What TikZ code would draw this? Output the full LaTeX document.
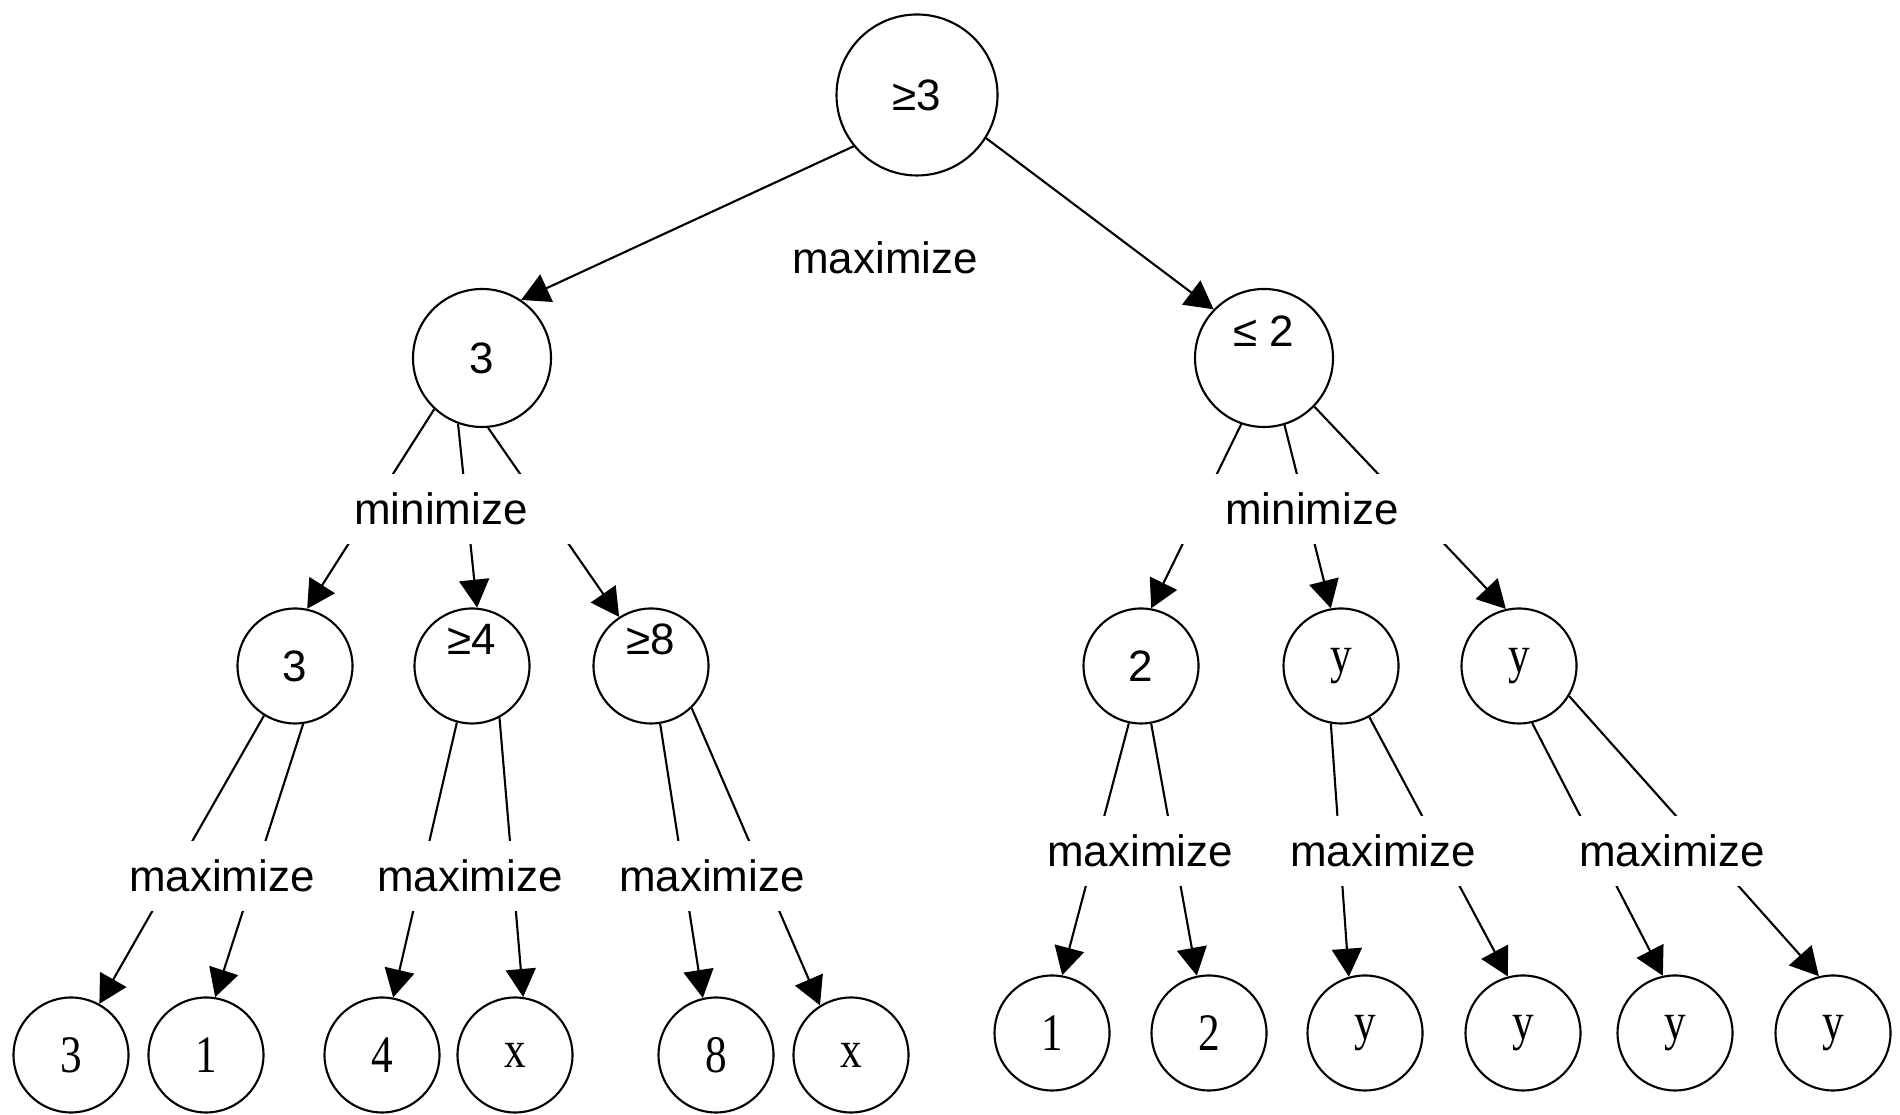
\documentclass[tikz,border=0pt]{standalone}
\usepackage{fontspec}
\setmainfont{Liberation Sans}
\newfontfamily\leaffont[FakeStretch=0.82]{Liberation Serif}
\usetikzlibrary{arrows.meta}
\tikzset{
    rootnode/.style={circle,draw,minimum size=1.61cm,inner sep=0pt},
    midnode/.style={circle,draw,minimum size=1.38cm,inner sep=0pt},
    smallnode/.style={circle,draw,minimum size=1.15cm,inner sep=0pt},
    leafnode/.style={smallnode,font=\leaffont\fontsize{15}{18}\selectfont},
    uptext/.style={text depth=0.54cm},
    oplabel/.style={fill=white,minimum width=2cm,minimum height=0.7cm,inner sep=0pt},
}
\begin{document}
\begin{tikzpicture}[line width=0.6pt,font=\fontsize{12.5}{15}\selectfont,
    >={Triangle[length=0.28cm,width=0.3cm]}]
    \useasboundingbox (0,0) rectangle (19,11.15);
    % game tree
    \node[rootnode] (root) at (9.17,10.20) {≥3};
    \node[midnode] (l) at (4.82,7.57) {3};
    \node[midnode,uptext] (r) at (12.64,7.57) {≤ 2};
    \node[smallnode] (la) at (2.95,4.49) {3};
    \node[smallnode,uptext] (lb) at (4.72,4.49) {≥4};
    \node[smallnode,uptext] (lc) at (6.51,4.49) {≥8};
    \node[smallnode] (ra) at (11.41,4.49) {2};
    \node[leafnode] (rb) at (13.41,4.49) {y};
    \node[leafnode] (rc) at (15.19,4.49) {y};
    % leaves
    \node[leafnode] (la1) at (0.71,0.60) {3};
    \node[leafnode] (la2) at (2.06,0.60) {1};
    \node[leafnode] (lb1) at (3.82,0.60) {4};
    \node[leafnode] (lb2) at (5.15,0.60) {x};
    \node[leafnode] (lc1) at (7.16,0.60) {8};
    \node[leafnode] (lc2) at (8.51,0.60) {x};
    \node[leafnode] (ra1) at (10.52,0.82) {1};
    \node[leafnode] (ra2) at (12.09,0.82) {2};
    \node[leafnode] (rb1) at (13.65,0.82) {y};
    \node[leafnode] (rb2) at (15.23,0.82) {y};
    \node[leafnode] (rc1) at (16.75,0.82) {y};
    \node[leafnode] (rc2) at (18.33,0.82) {y};
    % moves
    \foreach \p/\a/\c/\b in {root/219/l/56, root/328/r/136,
        l/227/la/78, l/250/lb/85, l/275/lc/123,
        r/251/ra/80, r/287/rb/100, r/316/rc/103,
        la/238/la1/61, la/278/la2/81, lb/255/lb1/79, lb/298/lb2/82,
        lc/279/lc1/103, lc/314/lc2/122, ra/258/ra1/80, ra/280/ra2/102,
        rb/260/rb1/106, rb/299/rb2/105, rc/283/rc1/102, rc/329/rc2/104}
        \draw[->] (\p.\a) -- (\c.\b);
    % labels cut the moves
    \node[oplabel] (max0) at (8.85,8.57) {maximize};
    \node[oplabel,minimum width=2.8cm] (minl) at (4.41,6.06) {minimize};
    \node[oplabel,minimum width=2.8cm] (minr) at (13.12,6.06) {minimize};
    \node[oplabel] (maxla) at (2.22,2.39) {maximize};
    \node[oplabel] (maxlb) at (4.70,2.39) {maximize};
    \node[oplabel] (maxlc) at (7.12,2.39) {maximize};
    \node[oplabel] (maxra) at (11.40,2.64) {maximize};
    \node[oplabel] (maxrb) at (13.83,2.64) {maximize};
    \node[oplabel] (maxrc) at (16.72,2.64) {maximize};
\end{tikzpicture}
\end{document}
